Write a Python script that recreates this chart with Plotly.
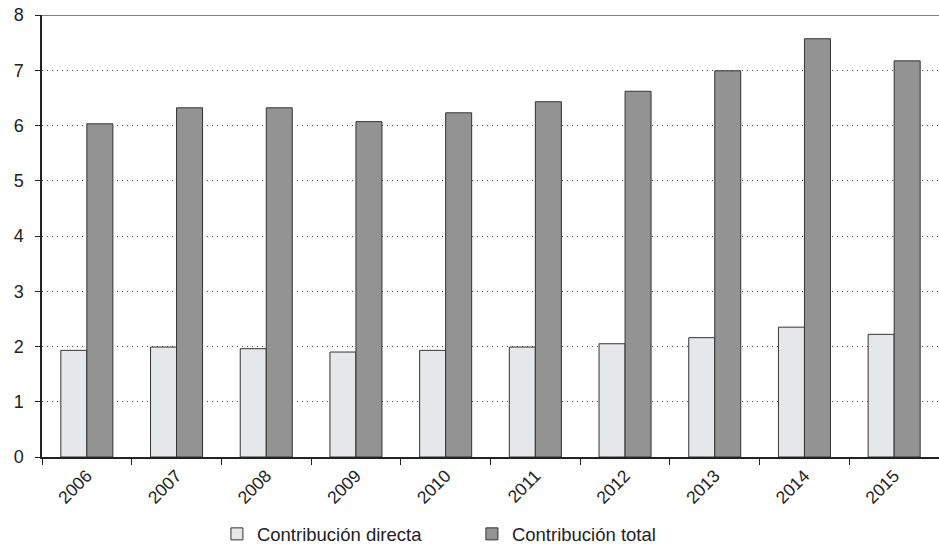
import plotly.graph_objects as go

years = ["2006", "2007", "2008", "2009", "2010", "2011", "2012", "2013", "2014", "2015"]
directa = [1.93, 1.99, 1.96, 1.90, 1.93, 1.99, 2.05, 2.16, 2.35, 2.22]
total = [6.03, 6.32, 6.32, 6.07, 6.23, 6.43, 6.62, 6.99, 7.57, 7.17]
y_ticks = [0, 1, 2, 3, 4, 5, 6, 7, 8]

font_family = "Liberation Sans, Arial, sans-serif"

fig = go.Figure()
fig.add_trace(go.Bar(
    x=years, y=directa, name="Contribución directa",
    marker=dict(color="#e6e7e8", line=dict(color="#333333", width=1)),
))
fig.add_trace(go.Bar(
    x=years, y=total, name="Contribución total",
    marker=dict(color="#939393", line=dict(color="#333333", width=1)),
))

# solid frame line along the top of the plot area
fig.add_shape(type="line", xref="paper", yref="y", x0=0, x1=1, y0=8, y1=8,
              line=dict(color="#555555", width=1.5), layer="above")

fig.update_layout(
    width=939, height=544,
    margin=dict(l=42, r=0, t=15, b=87, autoexpand=False),
    paper_bgcolor="white", plot_bgcolor="white",
    barmode="group", bargap=0.42, bargroupgap=0,
    font=dict(family=font_family, size=16, color="#222222"),
    showlegend=True,
    legend=dict(
        orientation="h", x=0.195, xanchor="left", y=-0.132, yanchor="top",
        font=dict(size=18.5, color="#222222"),
        itemwidth=30, entrywidth=210, entrywidthmode="pixels",
        traceorder="normal",
    ),
    xaxis=dict(
        type="category", tickangle=-45, tickson="boundaries",
        ticks="outside", ticklen=6, tickcolor="#222222",
        showline=True, linecolor="#222222", linewidth=1.5,
        showgrid=False, tickfont=dict(size=17.5, color="#222222"),
        automargin=False,
    ),
    yaxis=dict(
        range=[0, 8], tickvals=y_ticks, ticks="outside", ticklen=5,
        tickcolor="#222222", showline=True, linecolor="#222222", linewidth=1.5,
        showgrid=True, gridcolor="#444444", griddash="1px,4px", gridwidth=1,
        zeroline=False, tickfont=dict(size=18, color="#222222"),
        ticklabelstandoff=8, automargin=False,
    ),
)

fig.write_html("out.html")
